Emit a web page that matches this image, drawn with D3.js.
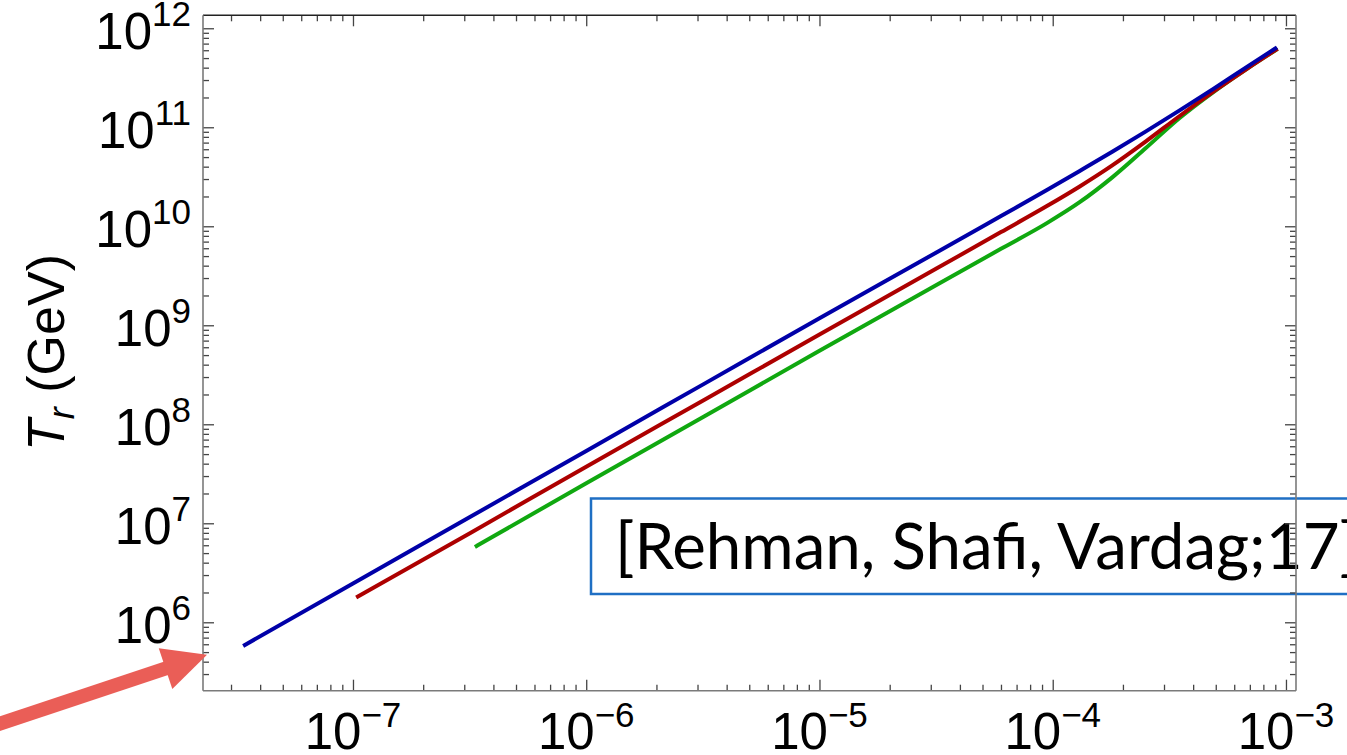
<!DOCTYPE html>
<html>
<head>
<meta charset="utf-8">
<script src="https://cdnjs.cloudflare.com/ajax/libs/d3/7.8.5/d3.min.js"></script>
<style>
  html, body { margin: 0; padding: 0; background: #ffffff; overflow: hidden; }
  svg { display: block; }
</style>
</head>
<body>
<div class="displayContainer"></div>
<script>
// x values (each curve starts at its own first point), T_r in GeV
const blueX  = [3.44e-8, 1e-7, 3.2e-7, 1e-6, 3.2e-6, 1e-5, 3.2e-5, 6e-5, 9.4e-5, 1.3e-4, 1.8e-4, 2.5e-4, 3.5e-4, 4.9e-4, 6.8e-4, 9e-4];
const blueT  = [5.9e5, 2.46e6, 1.17e7, 5.38e7, 2.56e8, 1.18e9, 5.5e9, 1.27e10, 2.31e10, 3.6e10, 5.65e10, 9.04e10, 1.48e11, 2.46e11, 4.08e11, 6.25e11];

const redX   = [1.05e-7, 3.2e-7, 1e-6, 3.2e-6, 1e-5, 3.2e-5, 6e-5, 9.4e-5, 1.3e-4, 1.8e-4, 2.5e-4, 3.5e-4, 4.9e-4, 6.8e-4, 9.06e-4];
const redT   = [1.82e6, 8.04e6, 3.73e7, 1.76e8, 8.07e8, 3.78e9, 8.73e9, 1.59e10, 2.51e10, 4.12e10, 7.16e10, 1.3e11, 2.3e11, 3.9e11, 6.05e11];

const greenX = [3.39e-7, 1e-6, 3.2e-6, 1e-5, 3.2e-5, 6e-5, 9.4e-5, 1.3e-4, 1.8e-4, 2.5e-4, 3.5e-4, 4.9e-4, 6.8e-4, 9.06e-4];
const greenT = [5.9e6, 2.54e7, 1.2e8, 5.52e8, 2.58e9, 5.92e9, 1.07e10, 1.74e10, 3.12e10, 6.13e10, 1.24e11, 2.28e11, 3.89e11, 6.05e11];

// tick labels (exponents of ten)
const xExponents = [-7, -6, -5, -4, -3];
const yExponents = [6, 7, 8, 9, 10, 11, 12];

const citeText = '[Rehman, Shafi, Vardag;17]';

const series = [
  { name: 'green', xs: greenX, ts: greenT, color: '#10a810' },
  { name: 'red',   xs: redX,   ts: redT,   color: '#ad0000' },
  { name: 'blue',  xs: blueX,  ts: blueT,  color: '#0000a8' }
];

const W = 1347, H = 755;
const plotLeft = 203, plotRight = 1296, plotTop = 15.3, plotBottom = 690.7;

const svg = d3.select('.displayContainer')
              .append('svg')
              .attr('width', W)
              .attr('height', H);

const x = d3.scaleLog()
            .domain([Math.pow(10, -7.643), Math.pow(10, -2.957)])
            .range([plotLeft, plotRight]);

const y = d3.scaleLog()
            .domain([Math.pow(10, 5.309), Math.pow(10, 12.131)])
            .range([plotBottom, plotTop]);

// all 1..9 multiples inside a log domain
function logTicks(scale) {
    const [a, b] = scale.domain();
    const out = [];
    for (let k = Math.floor(Math.log10(a)); k <= Math.ceil(Math.log10(b)); k++) {
        for (let m = 1; m <= 9; m++) {
            const v = m * Math.pow(10, k);
            if (v >= a && v <= b) out.push({ v: v, major: m === 1 });
        }
    }
    return out;
}
const xTicks = logTicks(x);
const yTicks = logTicks(y);

// curves
const line = d3.line()
               .x(d => x(d[0]))
               .y(d => y(d[1]))
               .curve(d3.curveMonotoneX);

svg.selectAll('.curve')
   .data(series)
   .enter()
   .append('path')
   .attr('class', 'curve')
   .attr('d', s => line(s.xs.map((v, i) => [v, s.ts[i]])))
   .attr('fill', 'none')
   .attr('stroke', s => s.color)
   .attr('stroke-width', 4)
   .attr('stroke-linecap', 'square');

// citation box (sits under the frame)
svg.append('rect')
   .attr('x', 591)
   .attr('y', 498.5)
   .attr('width', 800)
   .attr('height', 95.5)
   .attr('fill', '#ffffff')
   .attr('stroke', '#1f6fc4')
   .attr('stroke-width', 2.5);

svg.append('text')
   .attr('x', 615)
   .attr('y', 569)
   .attr('font-family', 'Lato, "Open Sans", sans-serif')
   .attr('font-size', 64)
   .attr('textLength', 744)
   .attr('lengthAdjust', 'spacingAndGlyphs')
   .attr('fill', '#000')
   .text(citeText);

// ticks: major 11px, minor 6px, all pointing inside
const tickColor = '#444';
function addAxis(axisFn, scale, transform, ticks, len) {
    svg.append('g')
       .attr('transform', transform)
       .call(axisFn(scale).tickValues(ticks).tickSize(-len).tickFormat(''))
       .call(g => g.select('.domain').remove())
       .call(g => g.selectAll('line').attr('stroke', tickColor).attr('stroke-width', 1.3));
}
const xMaj = xTicks.filter(t => t.major).map(t => t.v), xMin = xTicks.filter(t => !t.major).map(t => t.v);
const yMaj = yTicks.filter(t => t.major).map(t => t.v), yMin = yTicks.filter(t => !t.major).map(t => t.v);

addAxis(d3.axisBottom, x, `translate(0,${plotBottom})`, xMaj, 11);
addAxis(d3.axisBottom, x, `translate(0,${plotBottom})`, xMin, 6);
addAxis(d3.axisTop,    x, `translate(0,${plotTop})`,    xMaj, 11);
addAxis(d3.axisTop,    x, `translate(0,${plotTop})`,    xMin, 6);
addAxis(d3.axisLeft,   y, `translate(${plotLeft},0)`,   yMaj, 11);
addAxis(d3.axisLeft,   y, `translate(${plotLeft},0)`,   yMin, 6);
addAxis(d3.axisRight,  y, `translate(${plotRight},0)`,  yMaj, 11);
addAxis(d3.axisRight,  y, `translate(${plotRight},0)`,  yMin, 6);

// frame
const frame = svg.append('g').attr('fill', 'none').attr('stroke-width', 1.6);
frame.append('line').attr('x1', plotLeft).attr('x2', plotRight).attr('y1', plotTop).attr('y2', plotTop).attr('stroke', '#222');
frame.append('line').attr('x1', plotLeft).attr('x2', plotRight).attr('y1', plotBottom).attr('y2', plotBottom).attr('stroke', '#7a7a7a');
frame.append('line').attr('x1', plotLeft).attr('x2', plotLeft).attr('y1', plotTop).attr('y2', plotBottom).attr('stroke', '#7a7a7a');
frame.append('line').attr('x1', plotRight).attr('x2', plotRight).attr('y1', plotTop).attr('y2', plotBottom).attr('stroke', '#7a7a7a');

// tick labels
const labelFont = '"Liberation Sans", Arial, sans-serif';

svg.selectAll('.xlabel')
   .data(xExponents)
   .enter()
   .append('text')
   .attr('class', 'xlabel')
   .attr('x', e => x(Math.pow(10, e)))
   .attr('y', 749)
   .attr('text-anchor', 'middle')
   .attr('font-family', labelFont)
   .attr('font-size', 51)
   .attr('fill', '#000')
   .each(function (e) {
       const t = d3.select(this);
       t.append('tspan').text('10');
       t.append('tspan').attr('font-size', 35).attr('dy', -22).text('\u2212' + Math.abs(e));
   });

svg.selectAll('.ylabel')
   .data(yExponents)
   .enter()
   .append('text')
   .attr('class', 'ylabel')
   .attr('x', 191)
   .attr('y', e => y(Math.pow(10, e)) + 20.5)
   .attr('text-anchor', 'end')
   .attr('font-family', labelFont)
   .attr('font-size', 51)
   .attr('fill', '#000')
   .each(function (e) {
       const t = d3.select(this);
       t.append('tspan').text('10');
       t.append('tspan').attr('font-size', 35).attr('dy', -23).text(e);
   });

// y axis title
const ytitle = svg.append('text')
   .attr('transform', 'translate(64,352.5) rotate(-90)')
   .attr('text-anchor', 'middle')
   .attr('font-family', labelFont)
   .attr('font-size', 52)
   .attr('fill', '#000');
ytitle.append('tspan').attr('font-style', 'italic').text('T');
ytitle.append('tspan').attr('font-style', 'italic').attr('font-size', 36).attr('dy', 10).text('r');
ytitle.append('tspan').attr('dy', -10).text(' (GeV)');

// red arrow pointing at the lower left corner of the y axis
const tip = [x.range()[0] + 4, y(4.7e5)];
const ang = Math.atan2(-13.8, 41.5);
const headLen = 43.7, headHalf = 21.5;
const bx = tip[0] - headLen * Math.cos(ang), by = tip[1] - headLen * Math.sin(ang);
const px = -Math.sin(ang), py = Math.cos(ang);
svg.append('line')
   .attr('x1', bx - 260 * Math.cos(ang)).attr('y1', by - 260 * Math.sin(ang))
   .attr('x2', bx + 2 * Math.cos(ang)).attr('y2', by + 2 * Math.sin(ang))
   .attr('stroke', '#ea5e57')
   .attr('stroke-width', 14);
svg.append('polygon')
   .attr('points', [tip, [bx + px * headHalf, by + py * headHalf], [bx - px * headHalf, by - py * headHalf]].map(p => p.join(',')).join(' '))
   .attr('fill', '#ea5e57');
</script>
</body>
</html>
